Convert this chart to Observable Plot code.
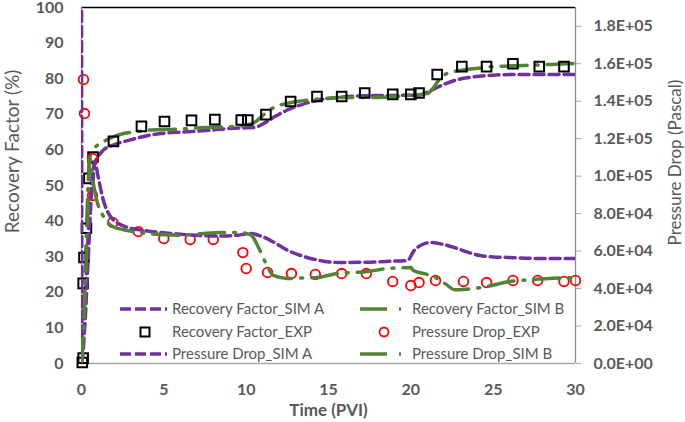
<!DOCTYPE html>
<html>
<head>
<meta charset="utf-8">
<script src="https://cdn.jsdelivr.net/npm/d3@7"></script>
<script src="https://cdn.jsdelivr.net/npm/@observablehq/plot@0.6"></script>
<style>
  html, body { margin: 0; padding: 0; background: #fff; }
  #chart { position: relative; width: 685px; height: 422px; }
</style>
</head>
<body>
<div id="chart"></div>
<script>
// ---- tick labels ----
const xTicks = [0, 5, 10, 15, 20, 25, 30];
const rfTicks = [0, 10, 20, 30, 40, 50, 60, 70, 80, 90, 100];
const pTicks = [0, 20000, 40000, 60000, 80000, 100000, 120000, 140000, 160000, 180000];
const P_MAX = 190000;

// ---- Recovery Factor EXP (%) ----
const rfExpX = [0.05, 0.1, 0.1, 0.15, 0.3, 0.45, 0.7, 1.94, 3.64, 5.04, 6.68, 8.1, 9.7, 10.1, 11.2, 12.7, 14.3, 15.8, 17.2, 18.9, 20.0, 20.5, 21.6, 23.1, 24.6, 26.2, 27.8, 29.3];
const rfExpY = [0.3, 1.5, 22.5, 29.8, 38, 52, 58, 62.4, 66.6, 68, 68.3, 68.5, 68.4, 68.4, 69.9, 73.6, 75, 75, 76, 75.6, 75.6, 76, 81.2, 83.4, 83.4, 84.2, 83.4, 83.4];

// ---- Pressure Drop EXP (Pa) ----
const pExpX = [0.12, 0.18, 0.67, 0.67, 1.9, 3.45, 5.0, 6.6, 8.0, 9.8, 10.0, 11.3, 12.75, 14.2, 15.8, 17.3, 18.9, 20.0, 20.5, 21.5, 23.2, 24.6, 26.2, 27.7, 29.3, 30.0];
const pExpY = [151600, 133400, 109400, 89700, 75300, 70400, 66700, 66200, 66200, 59200, 50700, 48600, 48000, 47500, 48000, 48000, 43800, 41600, 43200, 44300, 43800, 43200, 44300, 44300, 43800, 44300];

// ---- Recovery Factor SIM A (%) ----
const rfSimAX = [0, 0.15, 0.3, 0.45, 0.6, 0.8, 1.0, 1.3, 2.0, 2.8, 4.0, 4.8, 6.0, 6.8, 8.0, 8.9, 10.0, 10.5, 11.2, 11.8, 12.5, 13.3, 14.3, 15.5, 17.0, 19.0, 20.5, 21.2, 22.0, 22.8, 23.8, 25.0, 26.5, 28.0, 30.0];
const rfSimAY = [0, 10, 25, 40, 50, 56, 58, 59.8, 61.5, 62.6, 64, 64.6, 65, 65.2, 65.6, 66, 66.2, 66.3, 67.8, 69.5, 71.2, 72.6, 73.9, 74.7, 75.2, 75.3, 75.4, 76.7, 78.4, 79.7, 80.5, 81, 81.2, 81.2, 81.2];

// ---- Recovery Factor SIM B (%) ----
const rfSimBX = [0, 0.1, 0.25, 0.4, 0.5, 0.7, 1.15, 1.6, 2.55, 3.5, 4.2, 5.8, 7.4, 8.9, 10.0, 10.5, 11.1, 11.7, 12.4, 13.1, 14.7, 15.7, 17.7, 19.8, 21.0, 21.3, 21.6, 22.2, 22.8, 23.4, 24.2, 25.0, 26.8, 28.5, 30.0];
const rfSimBY = [0, 10, 30, 50, 58, 60, 61.8, 63, 64.6, 65.2, 65.6, 65.8, 66.3, 66.5, 67, 67.7, 70, 72, 73, 73.6, 74.4, 74.7, 74.7, 75.3, 75.8, 77, 79, 81.5, 82.2, 82.6, 83, 83.4, 83.7, 84, 84.3];

// ---- Pressure Drop SIM A (Pa) ----
const pSimAX = [0, 0.03, 0.2, 0.4, 0.6, 0.8, 1.0, 1.3, 1.8, 2.8, 3.8, 4.8, 6.0, 7.2, 8.5, 9.5, 10.3, 10.9, 11.7, 12.5, 13.7, 14.7, 15.7, 17.0, 18.5, 19.8, 20.2, 20.7, 21.2, 22.0, 22.8, 23.5, 24.2, 25.0, 25.9, 27.5, 30.0];
const pSimAY = [260000, 2000, 20000, 55000, 90000, 108000, 100000, 88000, 78000, 72600, 71000, 69900, 69000, 68300, 68000, 68500, 69400, 68000, 64600, 60500, 56600, 54600, 53900, 54000, 54500, 55000, 60300, 63500, 64600, 63500, 61400, 59300, 57600, 56900, 56600, 56100, 56000];

// ---- Pressure Drop SIM B (Pa) ----
const pSimBX = [0, 0.1, 0.25, 0.4, 0.5, 0.65, 0.9, 1.3, 1.8, 2.5, 3.46, 4.8, 6.0, 7.2, 8.5, 9.65, 10.3, 10.75, 11.2, 11.65, 12.5, 13.4, 14.3, 15.5, 17.4, 18.6, 20.0, 20.15, 20.8, 21.5, 22.1, 22.7, 23.5, 24.35, 26.0, 27.4, 30.0];
const pSimBY = [0, 15000, 45000, 85000, 110000, 100000, 88000, 79000, 73600, 71500, 70000, 68800, 68500, 69200, 69900, 69900, 68500, 61900, 53400, 47000, 45400, 45600, 45900, 48000, 49100, 50700, 51200, 49600, 48000, 45900, 42500, 39300, 39800, 40600, 43800, 44800, 45900];

// ---- legend ----
const legendLabels = ["Recovery Factor_SIM A", "Recovery Factor_SIM B", "Recovery Factor_EXP", "Pressure Drop_EXP", "Pressure Drop_SIM A", "Pressure Drop_SIM B"];

const PURPLE = "#7030A0", GREEN = "#548235", RED = "#FF0000", GRAY = "#595959", AXIS = "#a6a6a6";
const toRF = p => p / P_MAX * 100;
const fmtE = v => {
  const [m, e] = v.toExponential(1).split("e");
  const n = Math.abs(+e);
  return `${m}E${e[0] === "-" ? "-" : "+"}${String(n).padStart(2, "0")}`;
};

const zipRF = (xs, ys) => xs.map((x, i) => ({x, y: ys[i]}));
const zipP = (xs, ys) => xs.map((x, i) => ({x, y: toRF(ys[i])}));

const rfExp = zipRF(rfExpX, rfExpY);
const pExp = zipP(pExpX, pExpY);
const rfSimA = zipRF(rfSimAX, rfSimAY);
const rfSimB = zipRF(rfSimBX, rfSimBY);
const pSimA = zipP(pSimAX, pSimAY);
const pSimB = zipP(pSimBX, pSimBY);

const DASH_A = "10,5";
const DASH_B = "26,9,2,9";
const FONT = "Lato, 'Open Sans', sans-serif";

const svg = Plot.plot({
  width: 685,
  height: 422,
  marginLeft: 81,
  marginRight: 110,
  marginTop: 7,
  marginBottom: 59,
  style: {fontFamily: FONT, color: GRAY, background: "white", overflow: "visible"},
  x: {domain: [0, 30]},
  y: {domain: [0, 100]},
  marks: [
    // frame
    Plot.ruleY([0], {stroke: AXIS, strokeWidth: 1.3}),
    Plot.ruleX([0], {stroke: AXIS, strokeWidth: 1.3}),
    Plot.ruleX([30], {stroke: "#8c8c8c", strokeWidth: 1.3}),
    Plot.ruleY([100], {stroke: "black", strokeWidth: 1.3}),
    // axes
    Plot.axisX(xTicks, {tickSize: 0, tickPadding: 20, fontSize: 16, fontWeight: "bold", label: null, fill: GRAY}),
    Plot.axisY(rfTicks, {anchor: "left", tickSize: 0, tickPadding: 18, fontSize: 16, fontWeight: "bold", label: null, fill: GRAY}),
    Plot.axisY(pTicks.map(toRF), {anchor: "right", tickSize: 5, tickPadding: 13, fontSize: 16, fontWeight: "bold", label: null, fill: GRAY, stroke: AXIS, tickFormat: d => fmtE(d * P_MAX / 100)}),
    // primary series
    Plot.line(rfSimA, {x: "x", y: "y", stroke: PURPLE, strokeWidth: 3.5, strokeDasharray: DASH_A, curve: "monotone-x", clip: true}),
    Plot.line(rfSimB, {x: "x", y: "y", stroke: GREEN, strokeWidth: 3.5, strokeDasharray: DASH_B, curve: "monotone-x", clip: true}),
    Plot.dot(rfExp, {x: "x", y: "y", symbol: "square", r: 5.4, stroke: "black", strokeWidth: 2, fill: "none"}),
    // secondary series
    Plot.dot(pExp, {x: "x", y: "y", symbol: "circle", r: 4.8, stroke: RED, strokeWidth: 1.8, fill: "none"}),
    Plot.line(pSimA, {x: "x", y: "y", stroke: PURPLE, strokeWidth: 3.5, strokeDasharray: DASH_A, curve: "monotone-x", clip: true}),
    Plot.line(pSimB, {x: "x", y: "y", stroke: GREEN, strokeWidth: 3.5, strokeDasharray: DASH_B, curve: "monotone-x", clip: true}),
    // axis titles
    Plot.text(["Recovery Factor (%)"], {frameAnchor: "left", textAnchor: "middle", dx: -69, dy: -34, rotate: -90, fontSize: 19, fill: GRAY}),
    Plot.text(["Pressure Drop (Pascal)"], {frameAnchor: "right", textAnchor: "middle", dx: 100, dy: -23, rotate: -90, fontSize: 17, fill: GRAY}),
    Plot.text(["Time (PVI)"], {frameAnchor: "bottom", dy: 52, fontSize: 17, fontWeight: "bold", fill: GRAY})
  ]
});

// legend (inside plot area, bottom)
const g = d3.select(svg).append("g")
  .attr("font-family", FONT).attr("font-size", 15).attr("fill", GRAY).attr("text-anchor", "start");
const rows = [309, 332, 354];
const cols = [{line: [120, 167], mark: 145, text: 172}, {line: [360, 403], mark: 384, text: 412}];
const legendStyles = [
  {type: "line", stroke: PURPLE, dash: "11,4"},
  {type: "line", stroke: GREEN, dash: "27,12,2,50"},
  {type: "square", stroke: "black"},
  {type: "circle", stroke: RED},
  {type: "line", stroke: PURPLE, dash: "11,4"},
  {type: "line", stroke: GREEN, dash: "27,12,2,50"}
];
legendLabels.forEach((label, i) => {
  const r = rows[Math.floor(i / 2)], c = cols[i % 2], s = legendStyles[i];
  if (s.type === "line") {
    g.append("line").attr("x1", c.line[0]).attr("x2", c.line[1]).attr("y1", r).attr("y2", r)
      .attr("stroke", s.stroke).attr("stroke-width", 3.5).attr("stroke-dasharray", s.dash);
  } else if (s.type === "square") {
    g.append("rect").attr("x", c.mark - 4.5).attr("y", r - 4.5).attr("width", 9).attr("height", 9)
      .attr("fill", "none").attr("stroke", s.stroke).attr("stroke-width", 2);
  } else {
    g.append("circle").attr("cx", c.mark).attr("cy", r).attr("r", 4.5)
      .attr("fill", "none").attr("stroke", s.stroke).attr("stroke-width", 1.8);
  }
  g.append("text").attr("x", c.text).attr("y", r).attr("dy", "0.35em").attr("text-anchor", "start").text(label);
});

document.getElementById("chart").appendChild(svg);
</script>
</body>
</html>
